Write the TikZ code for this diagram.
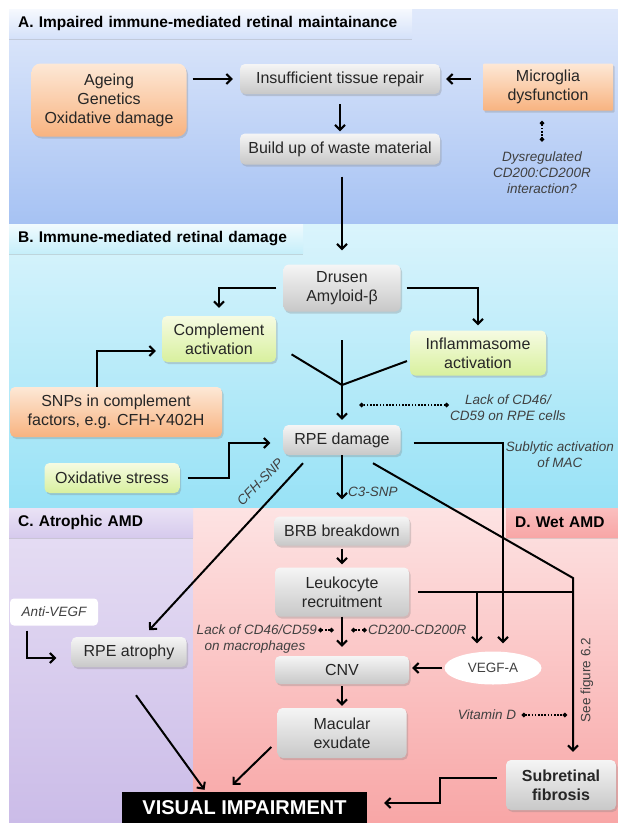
\documentclass[tikz,border=0pt]{standalone}
\usepackage{fontspec}
\setmainfont{Liberation Sans}
\usetikzlibrary{arrows.meta,shadows,shapes.geometric}

\definecolor{secAtop}{HTML}{E0E9FB}
\definecolor{secAbot}{HTML}{A6C2F3}
\definecolor{secBtop}{HTML}{DAF4FC}
\definecolor{secBbot}{HTML}{98E2F6}
\definecolor{secCtop}{HTML}{E7DFF4}
\definecolor{secCbot}{HTML}{CBBCE8}
\definecolor{secDtop}{HTML}{FDE3E3}
\definecolor{secDbot}{HTML}{F8A6A6}
\definecolor{boxtop}{HTML}{F5F5F5}
\definecolor{boxbot}{HTML}{C8C8C8}
\definecolor{orgtop}{HTML}{FDE8D6}
\definecolor{orgbot}{HTML}{F8B380}
\definecolor{grntop}{HTML}{F6FBE2}
\definecolor{grnbot}{HTML}{D8F09E}
\definecolor{notegray}{HTML}{404040}

\begin{document}
\begin{tikzpicture}[x=1pt, y=-1pt,
    box/.style={rounded corners=5pt, align=center, inner sep=2pt, text=black!85,
      font=\fontsize{16}{19}\selectfont,
      drop shadow={shadow xshift=1.5pt, shadow yshift=-2pt, opacity=0.3}},
    graybox/.style={box, top color=boxtop, bottom color=boxbot},
    orangebox/.style={box, top color=orgtop, bottom color=orgbot},
    greenbox/.style={box, top color=grntop, bottom color=grnbot},
    hdr/.style={anchor=north west, align=left, inner xsep=9pt, inner ysep=0pt,
      minimum height=29, font=\bfseries\fontsize{15.5}{19}\selectfont,
      drop shadow={shadow xshift=0pt, shadow yshift=-2pt, opacity=0.25}},
    note/.style={align=center, text=notegray, inner sep=1pt,
      font=\itshape\fontsize{13.5}{16}\selectfont},
    ln/.style={line width=2pt},
    arr/.style={line width=2pt, -{Straight Barb[length=5pt,width=10pt]}},
    dotconn/.style={line width=1.6pt, dash pattern=on 1.6pt off 1.6pt,
      {Diamond[length=5pt,width=5pt]}-{Diamond[length=5pt,width=5pt]}}]
  \useasboundingbox (0,0) rectangle (618,823);

  % section backgrounds
  \shade[top color=secAtop, bottom color=secAbot] (9,9) rectangle (618,224);
  \shade[top color=secBtop, bottom color=secBbot] (9,224) rectangle (618,508);
  \shade[top color=secCtop, bottom color=secCbot] (9,508) rectangle (193,823);
  \shade[top color=secDtop, bottom color=secDbot] (193,508) rectangle (618,823);

  \node[hdr, text width=385pt, top color=white!70!secAtop, bottom color=secAtop!80!secAbot] (hA) at (9,9) {\mbox{A. Impaired immune-mediated retinal maintainance}};
  \node[hdr, text width=276pt, top color=white!60!secBtop, bottom color=secBtop!70!secBbot] (hB) at (9,224) {\mbox{B. Immune-mediated retinal damage}};
  \node[hdr, text width=166pt, top color=secCtop!90!white, bottom color=secCtop!40!secCbot] (hC) at (9,508) {\mbox{C. Atrophic AMD}};
  \node[hdr, text width=94pt, top color=secDtop!40!secDbot, bottom color=secDbot] (hD) at (506,508) {\mbox{D. Wet AMD}};

  % A
  \node[orangebox, rounded corners=9pt, minimum width=155, minimum height=73] (age) at (109,100) {Ageing\\Genetics\\Oxidative damage};
  \node[graybox, minimum width=200, minimum height=30] (rep) at (340,79) {Insufficient tissue repair};
  \node[orangebox, rounded corners=1pt, minimum width=130, minimum height=47] (mic) at (548,87) {Microglia\\dysfunction};
  \node[graybox, minimum width=200, minimum height=31] (waste) at (340,149) {Build up of waste material};
  \node[note] (dys) at (542,173) {Dysregulated\\CD200:CD200R\\interaction?};

  % B
  \node[graybox, minimum width=117, minimum height=47] (drusen) at (342,288) {Drusen\\Amyloid-β};
  \node[greenbox, minimum width=114, minimum height=46] (comp) at (219,339) {Complement\\activation};
  \node[greenbox, minimum width=136, minimum height=45] (infl) at (478,353) {Inflammasome\\activation};
  \node[orangebox, minimum width=212, minimum height=50] (snp) at (116,412) {SNPs in complement\\factors, e.g. CFH-Y402H};
  \node[note] (lackrpe) at (508,408) {Lack of CD46/\\CD59 on RPE cells};
  \node[graybox, minimum width=117, minimum height=30] (rpe) at (342,440) {RPE damage};
  \node[greenbox, minimum width=135, minimum height=30] (oxs) at (112,478) {Oxidative stress};
  \node[note] (subly) at (560,455) {Sublytic activation\\of MAC};
  \node[note, rotate=46] (cfh) at (260,482) {CFH-SNP};
  \node[note, anchor=west] (c3) at (347,492) {C3-SNP};
  \coordinate (jtop) at (342,340);
  \coordinate (jn) at (342,385);

  % C and D
  \node[graybox, minimum width=135, minimum height=29] (brb) at (342,531) {BRB breakdown};
  \node[graybox, minimum width=134, minimum height=49] (leuk) at (342,592) {Leukocyte\\recruitment};
  \node[note, anchor=east] (lackmac) at (318,630) {Lack of CD46/CD59};
  \node[note] (onmac) at (255,647) {on macrophages};
  \node[note, anchor=west] (cd200) at (367,630) {CD200-CD200R};
  \node[graybox, minimum width=134, minimum height=28] (cnv) at (342,670) {CNV};
  \node[ellipse, fill=white, inner sep=1pt, minimum width=97, minimum height=33, text=notegray,
    font=\fontsize{13.5}{16}\selectfont] (vegf) at (493,668) {VEGF-A};
  \node[graybox, minimum width=129, minimum height=50] (mac) at (342,733) {Macular\\exudate};
  \node[note] (vitd) at (487,715) {Vitamin D};
  \node[note, rotate=90, font=\fontsize{13.5}{16}\selectfont] (seefig) at (587,680) {See figure 6.2};
  \node[graybox, font=\bfseries\fontsize{16}{19}\selectfont, minimum width=110, minimum height=50] (sub) at (561,785) {Subretinal\\fibrosis};
  \node[fill=black, text=white, inner sep=0pt, minimum width=245, minimum height=32,
    font=\bfseries\fontsize{20}{22}\selectfont] (vis) at (244.5,808) {VISUAL IMPAIRMENT};
  \node[graybox, minimum width=115, minimum height=30] (atro) at (129,652) {RPE atrophy};
  \node[note, fill=white, rounded corners=4pt, minimum width=88, minimum height=27] (anti) at (54,612) {Anti-VEGF};
  \coordinate (bend) at (573,578);
  \coordinate (vtopL) at ([xshift=-16pt]vegf.north);
  \coordinate (vtopR) at ([xshift=10pt]vegf.north);

  % connectors
  \draw[arr, shorten <=6pt, shorten >=7pt] (age.east |- rep.west) -- (rep.west);
  \draw[arr, shorten <=12pt, shorten >=6pt] (mic.west |- rep.east) -- (rep.east);
  \draw[arr, shorten <=10pt, shorten >=2pt] (rep.south) -- (waste.north);
  \draw[arr, shorten <=12pt, shorten >=14pt] (waste.south -| drusen.north) -- (drusen.north);
  \draw[dotconn, shorten <=10pt, shorten >=9pt] (dys.north |- mic.south) -- (dys.north);
  \draw[arr, shorten <=7pt, shorten >=8pt] (drusen.west) -| (comp.north);
  \draw[arr, shorten <=6pt, shorten >=5pt] (drusen.east) -| (infl.north);
  \draw[ln, shorten <=18pt] ([yshift=-6pt]comp.east) -- (jn);
  \draw[ln, shorten <=3pt] ([yshift=-7pt]infl.west) -- (jn);
  \draw[arr, shorten >=5pt] (jtop) -- (rpe.north);
  \draw[arr, shorten >=6pt] ([xshift=-19pt]snp.north) |- ([yshift=-12pt]comp.west);
  \draw[dotconn] ([yshift=3pt]lackrpe.west) -- ++(-90,0);
  \draw[arr, shorten <=8pt, shorten >=13pt] (oxs.east) -- ++(49,0) |- ([yshift=-3pt]rpe.west);
  \draw[arr, shorten <=13pt, shorten >=8pt] ([yshift=-3pt]rpe.east) -| (vtopR);
  \draw[arr, shorten >=8pt] ([shift={(31,8)}]rpe.south) -- (bend) -- (bend |- sub.north);
  \draw[arr, shorten >=9pt] ([shift={(-39,8)}]rpe.south) -- ([xshift=14pt]atro.north);
  \draw[arr, shorten >=17pt] (rpe.south) -- (brb.north);
  \draw[arr, shorten <=3pt, shorten >=3pt] (brb.south) -- (leuk.north);
  \draw[arr, shorten >=9pt] (leuk.south) -- (cnv.north);
  \draw[ln, shorten <=9pt] (leuk.east) -- (leuk.east -| bend);
  \draw[arr, shorten >=8pt] (vtopL |- leuk.east) -- (vtopL);
  \draw[dotconn] (lackmac.east) -- ++(16,0);
  \draw[dotconn] (cd200.west) -- ++(-16,0);
  \draw[arr, shorten <=2pt, shorten >=3pt] (vegf.west) -- (vegf.west -| cnv.east);
  \draw[arr, shorten <=2pt, shorten >=2pt] (cnv.south) -- (mac.north);
  \draw[dotconn, shorten <=4pt] (vitd.east) -- ++(50,0);
  \draw[arr] ([shift={(-6,14)}]mac.west) -- ([shift={(-12,-7)}]vis.north);
  \draw[arr] ([shift={(7,28)}]atro.south) -- ([shift={(-40,-2)}]vis.north);
  \draw[arr, shorten <=9pt, shorten >=17pt] ([yshift=7pt]sub.west) -- ++(-66,0) |- ([yshift=5pt]vis.east);
  \draw[arr, shorten <=5pt, shorten >=15pt] ([xshift=-27pt]anti.south) |- ([yshift=-6pt]atro.west);
\end{tikzpicture}
\end{document}
